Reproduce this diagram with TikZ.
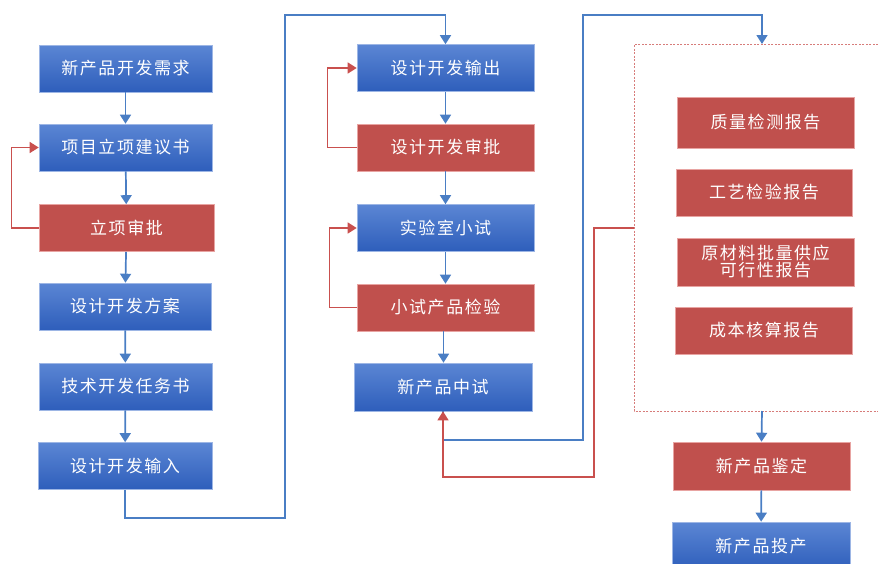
\documentclass[tikz,border=0pt]{standalone}
\usepackage{fontspec}
\newfontfamily\cjk[LetterSpace=9]{Noto Sans CJK SC}
\usetikzlibrary{arrows.meta}
\definecolor{bluetop}{HTML}{5B86D4}
\definecolor{bluebot}{HTML}{2E5EBB}
\definecolor{blueline}{HTML}{4A7EC4}
\definecolor{redfill}{HTML}{C0504D}
\definecolor{redline}{HTML}{C9504E}
\definecolor{redlight}{HTML}{E8A4A2}
\begin{document}
\begin{tikzpicture}[x=1pt,y=-1pt,
  base/.style={minimum height=47pt, inner sep=0pt, text=white,
    font=\cjk\fontsize{17}{20}\selectfont, align=center},
  bluebox/.style={base, top color=bluetop, bottom color=bluebot, draw=bluetop!60!white, line width=0.6pt},
  redbox/.style={base, fill=redfill, draw=redlight, line width=0.6pt},
  barrow/.style={draw=blueline, line width=1.7pt, -{Triangle[width=11pt,length=9pt]}},
  rarrow/.style={draw=redline, line width=1.3pt, -{Triangle[width=11pt,length=9pt]}},
  dashbox/.style={draw=redline!75!white, line width=1pt, dash pattern=on 2pt off 1.5pt}
]
\useasboundingbox (0,0) rectangle (878,563);
% column 1
\node[bluebox, minimum width=173pt] (n1) at (125.5,68.5) {新产品开发需求};
\node[bluebox, minimum width=173pt] (n2) at (125.5,147.5) {项目立项建议书};
\node[redbox, minimum width=175pt] (n3) at (126.5,228) {立项审批};
\node[bluebox, minimum width=172pt] (n4) at (125,306.5) {设计开发方案};
\node[bluebox, minimum width=173pt] (n5) at (125.5,386.5) {技术开发任务书};
\node[bluebox, minimum width=174pt] (n6) at (125,466) {设计开发输入};
% column 2
\node[bluebox, minimum width=177pt] (m1) at (445.5,68) {设计开发输出};
\node[redbox, minimum width=177pt] (m2) at (445.5,147.5) {设计开发审批};
\node[bluebox, minimum width=177pt] (m3) at (445.5,228) {实验室小试};
\node[redbox, minimum width=177pt] (m4) at (445.5,307.5) {小试产品检验};
\node[bluebox, minimum width=178pt, minimum height=48pt] (m5) at (443,387) {新产品中试};
% reports
\node[redbox, minimum width=177pt, minimum height=51pt] (r1) at (765.5,122.5) {质量检测报告};
\node[redbox, minimum width=176pt] (r2) at (764,192.5) {工艺检验报告};
\node[redbox, minimum width=177pt, minimum height=48pt] (r3) at (765.5,262) {原材料批量供应\\[-3pt]可行性报告};
\node[redbox, minimum width=177pt] (r4) at (764,330.5) {成本核算报告};
\node[redbox, minimum width=177pt, minimum height=48pt] (k1) at (761.5,466) {新产品鉴定};
\node[bluebox, minimum width=178pt, minimum height=48pt] (k2) at (761,546) {新产品投产};
% dashed region
\draw[dashbox] (878,44) -- (634,44) -- (634,411) -- (878,411);
\coordinate (dtop) at (762,44);
\coordinate (dbot) at (762,411);
\coordinate (dleft) at (634,228);
% column 1 arrows
\draw[barrow] (n1) -- (n2);
\draw[barrow] (n2) -- (n3);
\draw[barrow] (n3) -- (n4);
\draw[barrow] (n4) -- (n5);
\draw[barrow] (n5) -- (n6);
\draw[rarrow] (n3.west) -- ++(-27,0) |- (n2.west);
% link col1 -> col2
\coordinate (c1) at (285,518);
\coordinate (c1b) at (445.5,15);
\draw[barrow] (n6.south) |- (c1) |- (c1b) -- (m1.north);
% column 2 arrows
\draw[barrow] (m1) -- (m2);
\draw[barrow] (m2) -- (m3);
\draw[barrow] (m3) -- (m4);
\draw[barrow] ([xshift=-2pt]m4.south) -- ([xshift=0.5pt]m5.north);
\draw[rarrow] (m2.west) -- ++(-29,0) |- (m1.west);
\draw[rarrow] (m4.west) -- ++(-27,0) |- (m3.west);
% col2 -> reports
\coordinate (c2) at (583,440);
\coordinate (c3) at (762,15);
\draw[barrow] (m5.south) |- (c2) |- (c3) -- (dtop);
\coordinate (c4) at (594,228);
\coordinate (c5) at (443,477);
\draw[rarrow] (dleft) -- (c4) |- (c5) -- (m5.south);
% bottom right
\draw[barrow] (dbot) -- (k1.north);
\draw[barrow] (k1) -- (k2);
\end{tikzpicture}
\end{document}
